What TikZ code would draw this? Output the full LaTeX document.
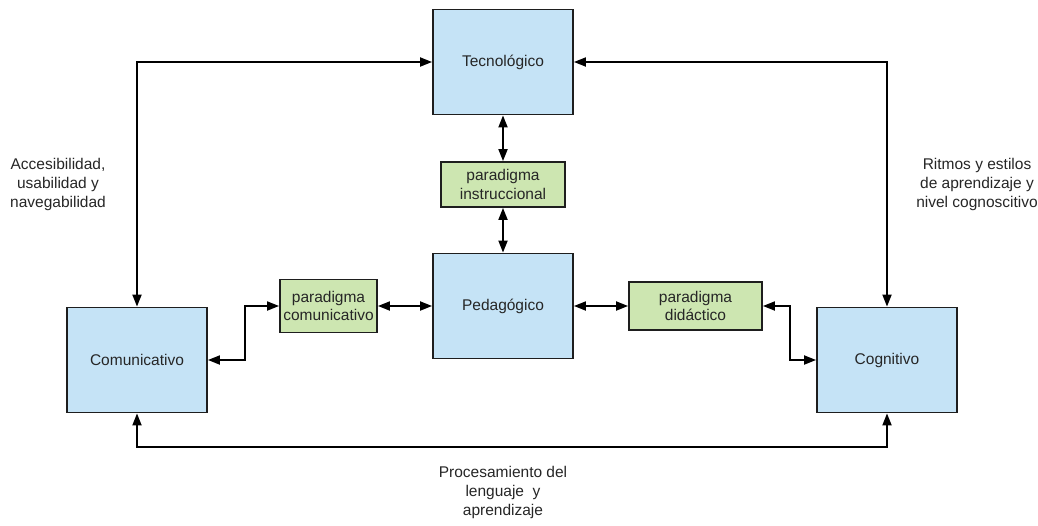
\documentclass[tikz,border=0pt]{standalone}
\usepackage{fontspec}
\setmainfont{Liberation Sans}
\usetikzlibrary{arrows.meta}
\definecolor{boxblue}{HTML}{C5E3F6}
\definecolor{boxgreen}{HTML}{CDE6B1}
\definecolor{edge}{HTML}{1E1E1E}
\tikzset{
  bluebox/.style={draw=edge, line width=1.8pt, fill=boxblue, minimum width=140pt, minimum height=105pt, inner sep=0pt, font=\fontsize{15.5}{18}\selectfont, text=black!85},
  greenbox/.style={draw=edge, line width=1.8pt, fill=boxgreen, inner sep=0pt, align=center, font=\fontsize{15.5}{18.5}\selectfont, text=black!85},
  conn/.style={draw=black, line width=1.8pt, {Triangle[length=12pt,width=9pt]}-{Triangle[length=12pt,width=9pt]}},
  lbl/.style={align=center, font=\fontsize{15.5}{19}\selectfont, text=black!85}
}
\begin{document}
\begin{tikzpicture}[x=1pt,y=-1pt]
\useasboundingbox (0,0) rectangle (1038,525);
\node[bluebox] (tec) at (503,62) {Tecnológico};
\node[bluebox] (ped) at (503,306) {Pedagógico};
\node[bluebox] (com) at (137,360) {Comunicativo};
\node[bluebox] (cog) at (887,360) {Cognitivo};
\node[greenbox, minimum width=124pt, minimum height=45pt] (ins) at (503,184.5) {paradigma\\instruccional};
\node[greenbox, minimum width=97pt, minimum height=53pt] (pcom) at (328.5,306) {paradigma\\comunicativo};
\node[greenbox, minimum width=133pt, minimum height=48pt] (pdid) at (695.5,306) {paradigma\\didáctico};
\coordinate (jl) at (245,330);
\coordinate (jr) at (790,330);
\coordinate (bot) at (503,447);
\draw[conn] (tec.west) -| (com.north);
\draw[conn] (tec.east) -| (cog.north);
\draw[conn] (tec.south) -- (ins.north);
\draw[conn] (ins.south) -- (ped.north);
\draw[conn] (ped.west) -- (pcom.east);
\draw[conn] (ped.east) -- (pdid.west);
\draw[conn] (com.east) -| (jl) |- (pcom.west);
\draw[conn] (cog.west) -| (jr) |- (pdid.east);
\draw[conn] (com.south) |- (bot) -| (cog.south);
\node[lbl] (acc) at (58,184) {Accesibilidad,\\usabilidad y\\navegabilidad};
\node[lbl] (rit) at (977,184) {Ritmos y estilos\\de aprendizaje y\\nivel cognoscitivo};
\node[lbl] (pro) at (503,492) {Procesamiento del\\lenguaje\ \ y\\aprendizaje};
\end{tikzpicture}
\end{document}
